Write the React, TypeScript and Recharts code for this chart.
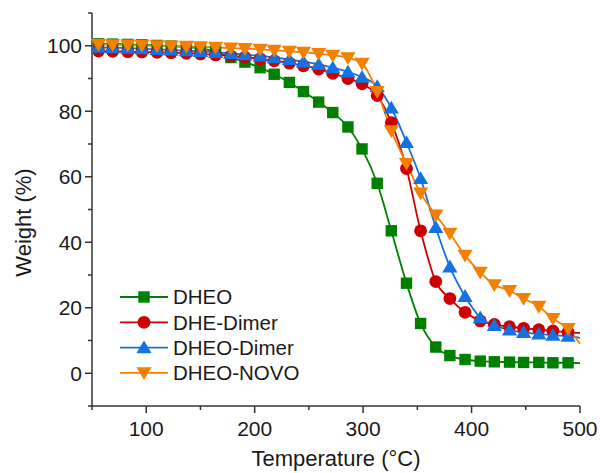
import { LineChart, Line, XAxis, YAxis, Legend } from "recharts";

// temperature (°C) of each plotted point; the 500 point only carries the line to the frame
const temps = [
  56, 69, 83, 96, 110, 123, 137, 150, 164, 178, 191, 205, 218, 232, 245, 259, 272,
  286, 299, 313, 326, 340, 353, 367, 380, 394, 408, 421, 435, 448, 462, 475, 489, 500,
];
const lastMarkerTemp = 489;

const dheo = [
  100.6, 100.5, 100.4, 100.3, 100.1, 99.9, 99.6, 99.2, 98.2, 96.4, 95.0, 93.3, 91.3,
  88.8, 86.0, 82.8, 79.6, 75.2, 68.5, 58.0, 43.5, 27.5, 15.2, 8.0, 5.4, 4.2, 3.7, 3.5,
  3.4, 3.3, 3.3, 3.2, 3.2, 3.1,
];
const dheDimer = [
  98.4, 98.3, 98.2, 98.1, 98.0, 97.9, 97.7, 97.5, 97.2, 96.9, 96.5, 96.0, 95.4, 94.7,
  93.9, 92.9, 91.6, 90.0, 88.4, 84.8, 76.5, 62.5, 43.5, 28.0, 22.8, 18.6, 16.0, 14.9,
  14.2, 13.7, 13.3, 12.9, 12.5, 12.3,
];
const dheoDimer = [
  99.6, 99.4, 99.3, 99.1, 98.9, 98.7, 98.5, 98.3, 98.0, 97.7, 97.3, 96.9, 96.4, 95.8,
  95.1, 94.3, 93.3, 92.0, 90.4, 87.6, 81.0, 70.5, 59.5, 44.5, 32.5, 23.5, 17.0, 14.6,
  13.2, 12.5, 12.0, 11.6, 11.3, 10.8,
];
const dheoNovo = [
  100.4, 100.3, 100.2, 100.1, 100.0, 99.9, 99.8, 99.7, 99.5, 99.3, 99.1, 98.9, 98.6,
  98.3, 98.0, 97.6, 97.1, 96.3, 94.6, 86.0, 74.0, 64.0, 55.0, 48.3, 42.7, 36.0, 30.8,
  27.0, 25.2, 22.8, 20.4, 16.7, 13.6, 9.0,
];

const xTicks = [50, 100, 150, 200, 250, 300, 350, 400, 450, 500];
const yTicks = [-10, 0, 10, 20, 30, 40, 50, 60, 70, 80, 90, 100, 110];

const series = [
  { key: "dheo", name: "DHEO", color: "#008000", shape: "square" },
  { key: "dheDimer", name: "DHE-Dimer", color: "#CC0000", shape: "circle" },
  { key: "dheoDimer", name: "DHEO-Dimer", color: "#1572E3", shape: "up" },
  { key: "dheoNovo", name: "DHEO-NOVO", color: "#F57F00", shape: "down" },
];

const data = temps.map((t, i) => ({
  temp: t,
  dheo: dheo[i],
  dheDimer: dheDimer[i],
  dheoDimer: dheoDimer[i],
  dheoNovo: dheoNovo[i],
}));

const FONT = "'Liberation Sans', Arial, sans-serif";
const AXIS = "#333";
const TEXT = "#1a1a1a";

function Marker({ shape, cx, cy, color }: any) {
  if (shape === "square")
    return <rect x={cx - 5.7} y={cy - 5.7} width={11.4} height={11.4} fill={color} />;
  if (shape === "circle") return <circle cx={cx} cy={cy} r={6.4} fill={color} />;
  if (shape === "up")
    return (
      <polygon
        points={`${cx},${cy - 7.2} ${cx + 7.6},${cy + 5.6} ${cx - 7.6},${cy + 5.6}`}
        fill={color}
      />
    );
  return (
    <polygon
      points={`${cx},${cy + 7.2} ${cx + 7.6},${cy - 5.6} ${cx - 7.6},${cy - 5.6}`}
      fill={color}
    />
  );
}

function YTick({ x, y, payload }: any) {
  const v = payload.value;
  const major = v % 20 === 0 && v >= 0 && v <= 100;
  return (
    <g>
      <line x1={x} x2={x - (major ? 7 : 4)} y1={y} y2={y} stroke={AXIS} strokeWidth={1.5} />
      {major && (
        <text x={x - 10} y={y} dy="0.36em" textAnchor="end" fontSize={21} fontFamily={FONT} fill={TEXT}>
          {v}
        </text>
      )}
    </g>
  );
}

function XTick({ x, y, payload }: any) {
  const v = payload.value;
  const major = v % 100 === 0;
  return (
    <g>
      <line x1={x} x2={x} y1={y} y2={y + (major ? 7 : 4)} stroke={AXIS} strokeWidth={1.5} />
      {major && (
        <text x={x} y={y + 30} textAnchor="middle" fontSize={21} fontFamily={FONT} fill={TEXT}>
          {v}
        </text>
      )}
    </g>
  );
}

function LegendBox() {
  return (
    <svg width={210} height={104}>
      {series.map((s, i) => {
        const y = 13 + i * 25.3;
        return (
          <g key={s.key}>
            <line x1={4} x2={52} y1={y} y2={y} stroke={s.color} strokeWidth={1.8} />
            <Marker shape={s.shape} cx={28} cy={y} color={s.color} />
            <text x={57} y={y} dy="0.36em" fontSize={20.5} fontFamily={FONT} fill={TEXT}>
              {s.name}
            </text>
          </g>
        );
      })}
    </svg>
  );
}

export default function App() {
  return (
    <div style={{ position: "absolute", left: 0, top: 0, background: "#fff" }}>
      <LineChart
        width={600}
        height={473}
        data={data}
        margin={{ top: 13, right: 20, bottom: 0, left: 0 }}
      >
        <XAxis
          dataKey="temp"
          type="number"
          domain={[50, 500]}
          ticks={xTicks}
          interval={0}
          height={67}
          tickSize={0}
          tickMargin={0}
          tickLine={false}
          tick={(p: any) => <XTick {...p} />}
          axisLine={{ stroke: AXIS, strokeWidth: 1.5 }}
          label={{
            content: (p: any) => {
              const vb = p.viewBox;
              return (
                <text x={vb.x + vb.width / 2} y={vb.y + 60} textAnchor="middle" fontSize={22} fontFamily={FONT} fill={TEXT}>
                  Temperature (°C)
                </text>
              );
            },
          }}
        />
        <XAxis
          xAxisId="top"
          orientation="top"
          type="number"
          domain={[50, 500]}
          height={0}
          tick={false}
          tickLine={false}
          axisLine={{ stroke: AXIS, strokeWidth: 1.5 }}
        />
        <YAxis
          type="number"
          domain={[-10, 110]}
          ticks={yTicks}
          interval={0}
          width={92}
          tickSize={0}
          tickMargin={0}
          tickLine={false}
          tick={(p: any) => <YTick {...p} />}
          axisLine={{ stroke: AXIS, strokeWidth: 1.5 }}
          label={{
            content: (p: any) => {
              const vb = p.viewBox;
              const cx = vb.x + 23;
              const cy = vb.y + vb.height / 2 + 13;
              return (
                <text
                  x={cx}
                  y={cy}
                  dy="0.36em"
                  textAnchor="middle"
                  transform={`rotate(-90 ${cx} ${cy})`}
                  fontSize={22}
                  fontFamily={FONT}
                  fill={TEXT}
                >
                  Weight (%)
                </text>
              );
            },
          }}
        />
        <YAxis
          yAxisId="right"
          orientation="right"
          type="number"
          domain={[-10, 110]}
          width={0}
          tick={false}
          tickLine={false}
          axisLine={{ stroke: AXIS, strokeWidth: 1.5 }}
        />
        <Legend
          layout="vertical"
          align="center"
          verticalAlign="middle"
          content={() => <LegendBox />}
          wrapperStyle={{ left: 116, top: 284, width: 210, height: 104 }}
        />
        {series.map((s) => (
          <Line
            key={s.key}
            dataKey={s.key}
            name={s.name}
            type="monotone"
            stroke={s.color}
            strokeWidth={1.8}
            isAnimationActive={false}
            activeDot={false}
            dot={(p: any) =>
              p.payload.temp > lastMarkerTemp ? (
                <g key={`${s.key}-${p.index}`} />
              ) : (
                <Marker key={`${s.key}-${p.index}`} shape={s.shape} cx={p.cx} cy={p.cy} color={s.color} />
              )
            }
          />
        ))}
      </LineChart>
    </div>
  );
}
